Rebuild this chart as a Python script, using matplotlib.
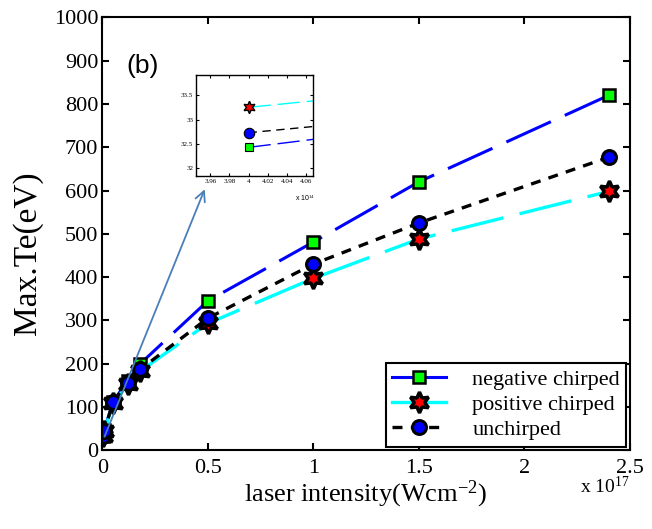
import matplotlib.pyplot as plt
from matplotlib.lines import Line2D

plt.rcParams['font.family'] = 'Liberation Serif'
plt.rcParams['mathtext.fontset'] = 'custom'
plt.rcParams['mathtext.rm'] = 'Liberation Serif'
plt.rcParams['mathtext.it'] = 'Liberation Serif:italic'
plt.rcParams['mathtext.bf'] = 'Liberation Serif:bold'

# laser intensity in units of 1e17 W/cm^2
intensity = [0.004, 0.01, 0.05, 0.12, 0.18, 0.5, 1.0, 1.5, 2.4]
te_negative = [32.43, 47, 112, 160, 200, 345, 481, 620, 820]
te_positive = [33.25, 45, 108, 152, 183, 293, 397, 488, 598]
te_unchirped = [32.73, 44, 111, 156, 187, 305, 430, 525, 677]

labels = ['negative chirped', 'positive chirped', 'unchirped']

fig = plt.figure(figsize=(6.52, 5.29), dpi=100)
ax = fig.add_axes([0.157, 0.149, 0.809, 0.818])

star6 = (6, 1, 0)

l1, = ax.plot(intensity, te_negative, color='#0000ff', lw=2.2, marker='s', ms=9,
              mfc='#00ff00', mec='black', mew=1.8)
l1.set_dashes([16, 5])
l2, = ax.plot(intensity, te_positive, color='cyan', lw=2.4, marker=star6, ms=15,
              mfc='red', mec='black', mew=2.5)
l2.set_dashes([16, 5])
l3, = ax.plot(intensity, te_unchirped, color='black', lw=2.4, ls=(0, (3, 2.5)), marker='o', ms=10,
              mfc='#0000ff', mec='black', mew=2.2)

ax.set_xlim(0, 2.5)
ax.set_ylim(0, 1000)
ax.set_xticks([0, 0.5, 1, 1.5, 2, 2.5])
ax.set_xticklabels(['0', '0.5', '1', '1.5', '2', '2.5'])
ax.set_yticks(range(0, 1001, 100))
ax.tick_params(direction='in', length=5, width=1.5, labelsize=16, top=True, right=True, pad=3)
ax.tick_params(axis='x', pad=6)
for s in ax.spines.values():
    s.set_linewidth(1.5)

ax.set_xlabel('laser intensity(Wcm$^{-2}$)', fontsize=19, labelpad=1)
ax.set_ylabel('Max.Te(eV)', fontsize=24)
ax.yaxis.set_label_coords(-0.112, 0.455)
ax.text(0.905, -0.06, 'x 10$^{17}$', transform=ax.transAxes, fontsize=14, va='top')
ax.text(0.045, 0.872, '(b)', transform=ax.transAxes, fontsize=19, family='Liberation Sans')

# legend with solid lines
h1 = Line2D([], [], color='#0000ff', lw=2.2, marker='s', ms=9, mfc='#00ff00', mec='black', mew=1.8)
h2 = Line2D([], [], color='cyan', lw=2.4, marker=star6, ms=15, mfc='red', mec='black', mew=2.5)
h3 = Line2D([], [], color='black', lw=2.4, ls=(0, (3, 2.5)), marker='o', ms=10, mfc='#0000ff',
            mec='black', mew=2.2)
leg = ax.legend([h1, h2, h3], labels, loc='lower right', fontsize=16, fancybox=False,
                edgecolor='black', framealpha=1, borderaxespad=0.15, handlelength=2.4,
                handletextpad=1.2, labelspacing=0.2, borderpad=0.3, bbox_to_anchor=(1.0, 0.0))
leg.get_frame().set_linewidth(1.5)

# arrow to inset
ax.annotate('', xy=(0.49, 609), xytext=(0.005, 25),
            arrowprops=dict(arrowstyle='->', color='#4a7ebb', lw=1.3, mutation_scale=18))

# inset zoom around 4e14
ins = fig.add_axes([0.3006, 0.667, 0.179, 0.191])
x14 = [v * 1000 for v in intensity]
il1, = ins.plot(x14, te_negative, color='#0000ff', lw=1, marker='s', ms=6,
                mfc='#00ff00', mec='black', mew=0.8)
il1.set_dashes([16, 5])
il2, = ins.plot(x14, te_positive, color='cyan', lw=1, marker=star6, ms=9,
                mfc='red', mec='black', mew=1)
il2.set_dashes([16, 5])
ins.plot(x14, te_unchirped, color='black', lw=1, ls=(0, (6, 4)), marker='o', ms=7.5,
         mfc='#0000ff', mec='black', mew=0.8)
ins.set_xlim(3.945, 4.067)
ins.set_ylim(31.84, 33.91)
ins.set_xticks([3.96, 3.98, 4, 4.02, 4.04, 4.06])
ins.set_xticklabels(['3.96', '3.98', '4', '4.02', '4.04', '4.06'])
ins.set_yticks([32, 32.5, 33, 33.5])
ins.set_yticklabels(['32', '32.5', '33', '33.5'])
ins.tick_params(direction='in', length=2, width=0.8, labelsize=5, top=True, right=True, pad=2)
for s in ins.spines.values():
    s.set_linewidth(1)
ins.text(0.85, -0.17, 'x 10$^{14}$', transform=ins.transAxes, fontsize=5, va='top',
         family='Liberation Sans')

fig.savefig('out.png', dpi=100)
